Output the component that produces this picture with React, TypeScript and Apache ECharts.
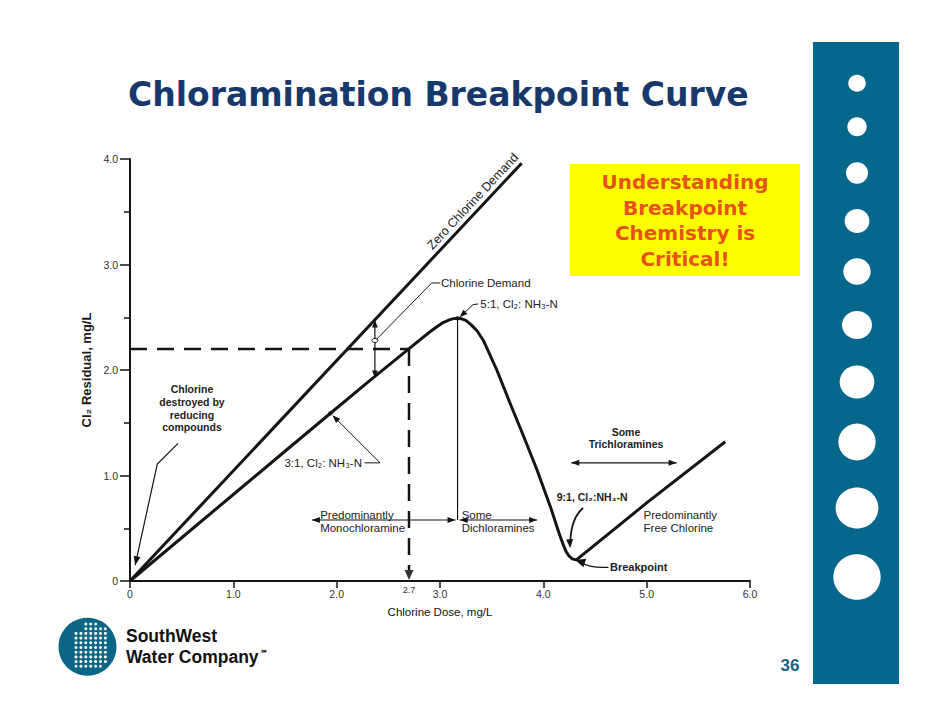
import React, { useEffect, useRef } from "react";
import * as echarts from "echarts";

// ---------- data ----------
const doseTickLabels = ["0", "1.0", "2.0", "3.0", "4.0", "5.0", "6.0"];
const residualTickLabels = ["0", "1.0", "2.0", "3.0", "4.0"];

// Zero chlorine demand line (residual = dose)
const zeroDemandDose = [0, 3.79];
const zeroDemandResidual = [0, 3.96];

// Breakpoint curve
const curveDose = [0, 0.5, 1.0, 1.5, 1.94, 2.32, 2.71, 2.9, 2.97, 3.03, 3.09, 3.13, 3.17, 3.21, 3.25, 3.3, 3.36, 3.42, 3.55, 3.68, 3.81, 3.94, 4.07, 4.15, 4.19, 4.22, 4.25, 4.28, 4.32, 5.0, 5.76];
const curveResidual = [0, 0.41, 0.82, 1.23, 1.59, 1.9, 2.21, 2.36, 2.41, 2.45, 2.475, 2.487, 2.49, 2.485, 2.47, 2.43, 2.37, 2.28, 2.0, 1.68, 1.37, 1.05, 0.7, 0.46, 0.35, 0.28, 0.235, 0.21, 0.2, 0.74, 1.32];

// Key points
const targetDose = 2.7;
const targetResidual = 2.2;
const ratio3Dose = 1.94;
const ratio3Residual = 1.59;
const peakDose = 3.17;
const peakResidual = 2.49;
const breakpointDose = 4.3;
const breakpointResidual = 0.2;
const demandDose = 2.37;
const demandUpper = 2.47;
const demandLower = 1.93;
const demandMid = 2.28;

const calloutLines = ["Understanding", "Breakpoint", "Chemistry is", "Critical!"];

const INK = "#151515";
const SANS = "'Liberation Sans', Arial, sans-serif";

export default function App() {
  const ref = useRef<HTMLDivElement>(null);

  useEffect(() => {
    if (!ref.current) return;
    const chart = echarts.init(ref.current, null, { renderer: "svg" });

    chart.setOption({
      animation: false,
      backgroundColor: "#ffffff",
      textStyle: { fontFamily: SANS },
      grid: { left: 130, right: 192, top: 159, bottom: 147 },
      xAxis: {
        type: "value",
        min: 0,
        max: 6,
        interval: 1,
        name: "Chlorine Dose, mg/L",
        nameLocation: "middle",
        nameGap: 25,
        nameTextStyle: { fontFamily: SANS, fontSize: 11.5, color: "#111" },
        axisLine: { show: true, onZero: true, lineStyle: { color: INK, width: 2 } },
        axisTick: { show: true, length: 7, lineStyle: { color: INK, width: 1.5 } },
        axisLabel: {
          margin: 7,
          fontFamily: SANS,
          fontSize: 10.5,
          color: "#333",
          formatter: (v: number) => doseTickLabels[Math.round(v)] ?? "",
        },
        splitLine: { show: false },
      },
      yAxis: {
        type: "value",
        min: 0,
        max: 4,
        interval: 1,
        name: "Cl₂ Residual, mg/L",
        nameLocation: "middle",
        nameRotate: 90,
        nameGap: 34,
        nameTextStyle: { fontFamily: SANS, fontSize: 13, fontWeight: "bold", color: "#1a1a1a" },
        axisLine: { show: true, lineStyle: { color: INK, width: 2 } },
        axisTick: { show: true, length: 10, lineStyle: { color: INK, width: 1.5 } },
        minorTick: { show: true, splitNumber: 2, length: 6, lineStyle: { color: INK, width: 1.5 } },
        minorSplitLine: { show: false },
        axisLabel: {
          margin: 12,
          fontFamily: SANS,
          fontSize: 10.5,
          color: "#333",
          formatter: (v: number) => residualTickLabels[Math.round(v)] ?? "",
        },
        splitLine: { show: false },
      },
      series: [
        {
          name: "Zero Chlorine Demand",
          type: "line",
          symbol: "none",
          data: zeroDemandDose.map((d, i) => [d, zeroDemandResidual[i]]),
          lineStyle: { color: INK, width: 3 },
        },
        {
          name: "Chlorine Residual",
          type: "line",
          symbol: "none",
          smooth: false,
          data: curveDose.map((d, i) => [d, curveResidual[i]]),
          lineStyle: { color: INK, width: 3, join: "round" },
        },
      ],
    });

    const p = (x: number, y: number): [number, number] =>
      chart.convertToPixel({ xAxisIndex: 0, yAxisIndex: 0 }, [x, y]) as [number, number];

    const head = (tip: [number, number], from: [number, number], len = 8, half = 3) => {
      const dx = tip[0] - from[0];
      const dy = tip[1] - from[1];
      const d = Math.hypot(dx, dy) || 1;
      const ux = dx / d;
      const uy = dy / d;
      const bx = tip[0] - ux * len;
      const by = tip[1] - uy * len;
      return {
        type: "polygon",
        silent: true,
        shape: { points: [tip, [bx - uy * half, by + ux * half], [bx + uy * half, by - ux * half]] },
        style: { fill: INK },
      };
    };
    const seg = (a: [number, number], b: [number, number], w = 1, dash?: number[]) => ({
      type: "line",
      silent: true,
      shape: { x1: a[0], y1: a[1], x2: b[0], y2: b[1] },
      style: { stroke: INK, lineWidth: w, lineDash: dash },
    });
    const poly = (pts: [number, number][], w = 1) => ({
      type: "polyline",
      silent: true,
      shape: { points: pts },
      style: { stroke: INK, lineWidth: w, fill: null },
    });
    const txt = (
      at: [number, number],
      text: string,
      opts: { size?: number; bold?: boolean; align?: string; color?: string; family?: string } = {}
    ) => ({
      type: "text",
      silent: true,
      x: at[0],
      y: at[1],
      style: {
        text,
        fill: opts.color ?? "#222",
        fontFamily: opts.family ?? SANS,
        fontSize: opts.size ?? 11.5,
        fontWeight: opts.bold ? "bold" : "normal",
        textAlign: opts.align ?? "left",
        align: opts.align ?? "left",
        textVerticalAlign: "middle",
        verticalAlign: "middle",
      },
    });

    const g: any[] = [];

    // Title
    g.push(txt([128, 94], "Chloramination Breakpoint Curve", { size: 33, bold: true, color: "#17386a", family: "'DejaVu Sans', sans-serif" }));

    // Callout box
    g.push({ type: "rect", silent: true, shape: { x: 570, y: 164, width: 230, height: 112 }, style: { fill: "#ffff00" } });
    const calloutY = [182, 207.5, 233, 258.5];
    calloutLines.forEach((t, i) =>
      g.push(txt([685, calloutY[i]], t, { size: 20, bold: true, align: "center", color: "#e5531a", family: "'DejaVu Sans', sans-serif" }))
    );

    // Right decorative bar
    g.push({ type: "rect", silent: true, shape: { x: 813, y: 42, width: 86, height: 642 }, style: { fill: "#05678b" } });
    const dotY = [83.3, 126.7, 173, 221, 271.5, 325, 382, 442, 508, 577];
    const dotW = [17.5, 19.3, 22, 24.7, 27.3, 30, 34.7, 37.3, 42.7, 47.3];
    const dotH = [17, 19, 21.5, 24, 26.5, 28, 33, 37, 41, 45.5];
    dotY.forEach((cy, i) =>
      g.push({ type: "ellipse", silent: true, shape: { cx: 857, cy, rx: dotW[i] / 2, ry: dotH[i] / 2 }, style: { fill: "#ffffff" } })
    );

    // Page number
    g.push(txt([790, 665], "36", { size: 17, bold: true, color: "#1b5f80", align: "center" }));

    // Logo
    g.push({ type: "circle", silent: true, shape: { cx: 87.5, cy: 646.7, r: 29 }, style: { fill: "#0b6585" } });
    for (let c = 0; c < 7; c++) {
      for (let r = 0; r < 10; r++) {
        const cx = 76 + c * 4.9;
        const cy = 624 + r * 4.7;
        if (Math.hypot(cx - 87.5, cy - 646.7) > 25.5) continue;
        if (c < 2 && cy < 631) continue;
        g.push({ type: "circle", silent: true, shape: { cx, cy, r: 1.5 }, style: { fill: "#ffffff" } });
      }
    }
    g.push(txt([126, 636], "SouthWest", { size: 17.5, bold: true, color: "#111" }));
    g.push(txt([126, 656.5], "Water Company", { size: 17.5, bold: true, color: "#111" }));
    g.push(txt([261, 652], "℠", { size: 7, bold: true, color: "#111" }));

    // ---- chart annotations (data coordinates) ----
    // Dashed guide lines to target dose 2.7 / residual 2.2
    g.push(seg(p(0, targetResidual), p(targetDose, targetResidual), 2.5, [17, 10]));
    g.push(seg(p(targetDose, targetResidual), p(targetDose, 0.08), 2.5, [17, 10]));
    const tb = p(targetDose, 0);
    g.push({ type: "polygon", silent: true, shape: { points: [[tb[0], tb[1] - 1], [tb[0] - 4.5, tb[1] - 11], [tb[0] + 4.5, tb[1] - 11]] }, style: { fill: "#333" } });
    g.push(txt([tb[0], tb[1] + 9], "2.7", { size: 9, align: "center", color: "#333" }));

    // Zero Chlorine Demand label along the line
    const l0 = p(0, 0);
    const l1 = p(zeroDemandDose[1], zeroDemandResidual[1]);
    const ldx = l1[0] - l0[0];
    const ldy = l1[1] - l0[1];
    const ll = Math.hypot(ldx, ldy);
    const ang = Math.atan2(-ldy, ldx);
    const t0 = 0.893; // fraction along the line where the label is centred
    const nx = ldy / ll; // normal pointing up-left
    const ny = -ldx / ll;
    const zc: [number, number] = [l0[0] + ldx * t0 + nx * 9.5, l0[1] + ldy * t0 + ny * 9.5];
    g.push({
      type: "text",
      silent: true,
      x: zc[0],
      y: zc[1],
      rotation: ang,
      style: { text: "Zero Chlorine Demand", fill: "#222", fontFamily: SANS, fontSize: 12.5, align: "center", textAlign: "center", verticalAlign: "middle", textVerticalAlign: "middle" },
    });

    // Chlorine demand double arrow
    const du = p(demandDose, demandUpper);
    const dl = p(demandDose, demandLower);
    g.push(seg(du, dl, 1.2));
    g.push(head(du, dl, 7, 3));
    g.push(head(dl, du, 7, 3));
    const dm = p(demandDose, demandMid);
    g.push({ type: "ellipse", silent: true, shape: { cx: dm[0], cy: dm[1], rx: 3, ry: 2 }, style: { fill: "#fff", stroke: INK, lineWidth: 1 } });
    g.push(txt(p(3.01, 2.825), "Chlorine Demand"));
    g.push(poly([p(3.0, 2.825), p(2.92, 2.825), p(2.385, 2.29)]));

    // 5:1 peak
    g.push(txt(p(3.39, 2.626), "5:1, Cl₂: NH₃-N"));
    const pk = p(peakDose, peakResidual);
    const pk1 = p(3.37, 2.626);
    const pk2 = p(3.32, 2.62);
    g.push(poly([pk1, pk2, [pk[0] + 3, pk[1] - 2]]));
    g.push(head([pk[0] + 2, pk[1] - 1], pk2, 8, 3));
    g.push({ type: "circle", silent: true, shape: { cx: pk[0], cy: pk[1], r: 2.2 }, style: { fill: "#555" } });

    // Vertical thin line from peak
    g.push(seg(pk, p(peakDose, 0.578), 1.2));

    // Chlorine destroyed by reducing compounds
    const destroyed = ["Chlorine", "destroyed by", "reducing", "compounds"];
    const dy = [1.817, 1.697, 1.576, 1.457];
    destroyed.forEach((t, i) => g.push(txt(p(0.6, dy[i]), t, { size: 10.5, bold: true, align: "center" })));
    const dA = p(0.465, 1.305);
    const dB = p(0.264, 1.109);
    const dT = p(0.05, 0.15);
    g.push(poly([dA, dB, dT], 1.2));
    g.push(head(dT, dB, 9, 3.5));

    // 3:1 ratio
    g.push(txt(p(2.245, 1.118), "3:1, Cl₂: NH₃-N", { align: "right" }));
    const r3 = p(ratio3Dose, ratio3Residual);
    const r3a = p(2.27, 1.12);
    const r3b = p(2.42, 1.12);
    g.push(poly([r3a, r3b, [r3[0] + 3, r3[1] + 3]]));
    g.push(head([r3[0] + 2, r3[1] + 2], r3b, 8, 3));
    g.push({ type: "circle", silent: true, shape: { cx: r3[0], cy: r3[1], r: 2.4 }, style: { fill: "#666" } });

    // Region arrows
    const arrowY = 0.578;
    const both = (a: [number, number], b: [number, number]) => {
      g.push(seg(a, b, 1.2));
      g.push(head(a, b, 8, 3));
      g.push(head(b, a, 8, 3));
    };
    both(p(1.76, arrowY), p(3.15, arrowY));
    both(p(3.19, arrowY), p(3.94, arrowY));
    both(p(4.27, 1.12), p(5.29, 1.12));

    g.push(txt(p(1.84, 0.63), "Predominantly"));
    g.push(txt(p(1.84, 0.5), "Monochloramine"));
    g.push(txt(p(3.21, 0.63), "Some"));
    g.push(txt(p(3.21, 0.5), "Dichloramines"));
    g.push(txt(p(4.97, 0.63), "Predominantly"));
    g.push(txt(p(4.97, 0.5), "Free Chlorine"));
    g.push(txt(p(4.8, 1.415), "Some", { size: 10.5, bold: true, align: "center" }));
    g.push(txt(p(4.8, 1.296), "Trichloramines", { size: 10.5, bold: true, align: "center" }));

    // 9:1
    g.push(txt(p(4.13, 0.8), "9:1, Cl₂:NH₃-N", { size: 10.5, bold: true }));
    const n1 = p(4.385, 0.692);
    const nc = p(4.27, 0.6);
    const nt = p(4.26, 0.31);
    g.push({ type: "bezierCurve", silent: true, shape: { x1: n1[0], y1: n1[1], x2: nt[0], y2: nt[1] - 6, cpx1: nc[0], cpy1: nc[1] }, style: { stroke: INK, lineWidth: 1.8, fill: null } });
    g.push(head(nt, [nt[0] - 0.5, nt[1] - 8], 9, 3.5));

    // Breakpoint
    g.push(txt(p(4.645, 0.13), "Breakpoint", { size: 11, bold: true }));
    const bp = p(breakpointDose, breakpointResidual);
    const b1 = p(4.63, 0.13);
    const bc = p(4.45, 0.12);
    g.push({ type: "bezierCurve", silent: true, shape: { x1: b1[0], y1: b1[1], x2: bp[0] + 6, y2: bp[1] + 2, cpx1: bc[0], cpy1: bc[1] }, style: { stroke: INK, lineWidth: 1.2, fill: null } });
    g.push(head([bp[0] + 1, bp[1]], [bp[0] + 10, bp[1] + 3], 10, 4.5));

    chart.setOption({ graphic: g });

    return () => chart.dispose();
  }, []);

  return <div ref={ref} style={{ position: "fixed", left: 0, top: 0, width: 942, height: 728, background: "#fff" }} />;
}
